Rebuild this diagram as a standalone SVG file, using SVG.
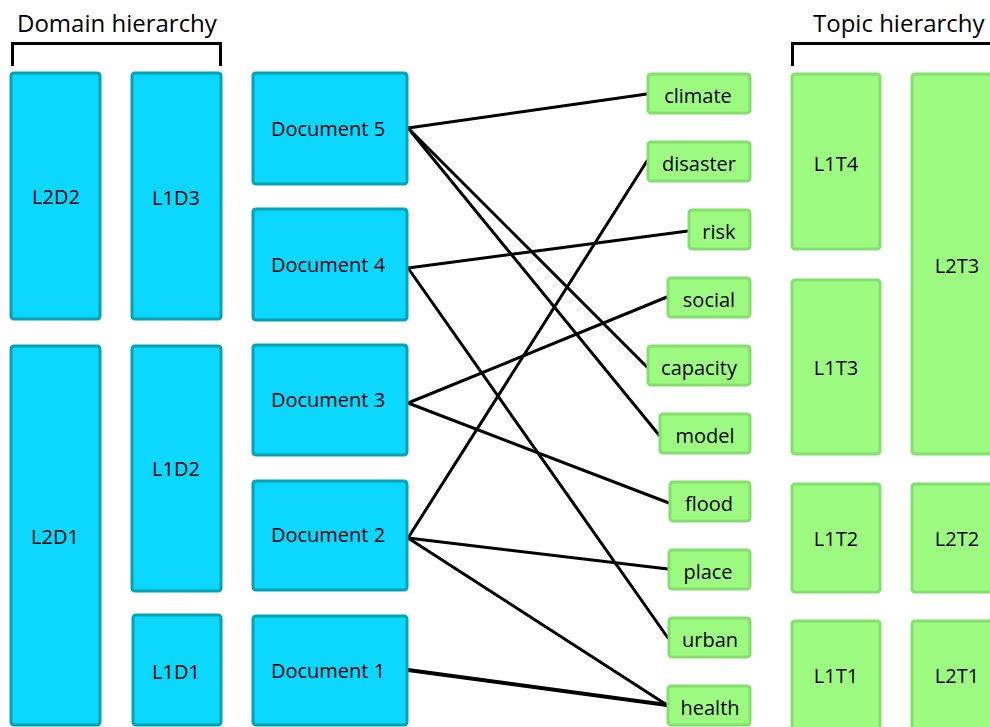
<svg xmlns="http://www.w3.org/2000/svg" width="990" height="727" viewBox="0 0 990 727">
  <style>
    text { font-family: "Open Sans", "Noto Sans", sans-serif; fill: #000; }
    .title { font-size: 24px; }
    .lbl { font-size: 20px; text-anchor: middle; dominant-baseline: central; }
    .dom rect { fill: #0bd7ff; stroke: #05a2b2; stroke-width: 3; }
    .top rect { fill: #9cfb80; stroke: #84e06c; stroke-width: 3; }
    .bracket { fill: none; stroke: #000; stroke-width: 3; }
    #connectors line { stroke: #000; stroke-width: 3; stroke-linecap: round; }
  </style>

  <!-- headings and brackets -->
  <text class="title" x="17" y="32">Domain hierarchy</text>
  <path class="bracket" d="M12.5 66 V43.5 H220.5 V66"/>
  <text class="title" x="813" y="32">Topic hierarchy</text>
  <path class="bracket" d="M792.5 66 V43.5 H995"/>

  <!-- connectors -->
  <g id="connectors">
    <line x1="408" y1="128" x2="647" y2="94"/>
    <line x1="408" y1="128" x2="647" y2="367"/>
    <line x1="408" y1="128" x2="659" y2="435"/>
    <line x1="408" y1="268" x2="688" y2="231"/>
    <line x1="408" y1="268" x2="668" y2="638"/>
    <line x1="408" y1="403" x2="667" y2="297"/>
    <line x1="408" y1="403" x2="669" y2="503"/>
    <line x1="408" y1="538" x2="647" y2="161"/>
    <line x1="408" y1="538" x2="668" y2="569"/>
    <line x1="408" y1="538" x2="667" y2="705"/>
    <line x1="408" y1="670" x2="667" y2="705" style="stroke-width:4"/>
  </g>

  <!-- domain hierarchy -->
  <g id="L2D2" class="dom"><rect x="11" y="73" width="89" height="246" rx="3"/><text class="lbl" x="56" y="196">L2D2</text></g>
  <g id="L2D1" class="dom"><rect x="11" y="346" width="89" height="379" rx="3"/><text class="lbl" x="55" y="536">L2D1</text></g>
  <g id="L1D3" class="dom"><rect x="132" y="73" width="89" height="246" rx="3"/><text class="lbl" x="176" y="197">L1D3</text></g>
  <g id="L1D2" class="dom"><rect x="132" y="346" width="89" height="245" rx="3"/><text class="lbl" x="176" y="468">L1D2</text></g>
  <g id="L1D1" class="dom"><rect x="133" y="615" width="88" height="110" rx="3"/><text class="lbl" x="176" y="671">L1D1</text></g>

  <!-- documents -->
  <g id="doc5" class="dom"><rect x="253" y="73" width="154" height="111" rx="3"/><text class="lbl" x="328" y="128">Document 5</text></g>
  <g id="doc4" class="dom"><rect x="253" y="209" width="154" height="111" rx="3"/><text class="lbl" x="328" y="264">Document 4</text></g>
  <g id="doc3" class="dom"><rect x="253" y="345" width="154" height="110" rx="3"/><text class="lbl" x="328" y="399">Document 3</text></g>
  <g id="doc2" class="dom"><rect x="253" y="481" width="154" height="109" rx="3"/><text class="lbl" x="328" y="534">Document 2</text></g>
  <g id="doc1" class="dom"><rect x="253" y="616" width="154" height="109" rx="3"/><text class="lbl" x="328" y="670">Document 1</text></g>

  <!-- words -->
  <g id="w-climate" class="top"><rect x="648" y="74" width="102" height="39" rx="3"/><text class="lbl" x="698" y="95">climate</text></g>
  <g id="w-disaster" class="top"><rect x="648" y="142" width="102" height="39" rx="3"/><text class="lbl" x="699" y="163">disaster</text></g>
  <g id="w-risk" class="top"><rect x="689" y="210" width="61" height="39" rx="3"/><text class="lbl" x="719" y="231">risk</text></g>
  <g id="w-social" class="top"><rect x="668" y="278" width="82" height="39" rx="3"/><text class="lbl" x="709" y="299">social</text></g>
  <g id="w-capacity" class="top"><rect x="648" y="346" width="102" height="39" rx="3"/><text class="lbl" x="699" y="367">capacity</text></g>
  <g id="w-model" class="top"><rect x="660" y="414" width="90" height="39" rx="3"/><text class="lbl" x="705" y="435">model</text></g>
  <g id="w-flood" class="top"><rect x="670" y="482" width="80" height="39" rx="3"/><text class="lbl" x="709" y="503">flood</text></g>
  <g id="w-place" class="top"><rect x="669" y="550" width="81" height="39" rx="3"/><text class="lbl" x="708" y="571">place</text></g>
  <g id="w-urban" class="top"><rect x="669" y="618" width="81" height="39" rx="3"/><text class="lbl" x="710" y="639">urban</text></g>
  <g id="w-health" class="top"><rect x="668" y="686" width="82" height="39" rx="3"/><text class="lbl" x="710" y="707">health</text></g>

  <!-- topic hierarchy -->
  <g id="L1T4" class="top"><rect x="792" y="74" width="88" height="175" rx="3"/><text class="lbl" x="836" y="163">L1T4</text></g>
  <g id="L1T3" class="top"><rect x="792" y="280" width="88" height="174" rx="3"/><text class="lbl" x="836" y="367">L1T3</text></g>
  <g id="L1T2" class="top"><rect x="792" y="484" width="88" height="108" rx="3"/><text class="lbl" x="836" y="538">L1T2</text></g>
  <g id="L1T1" class="top"><rect x="792" y="621" width="88" height="110" rx="3"/><text class="lbl" x="836" y="675">L1T1</text></g>
  <g id="L2T3" class="top"><rect x="912" y="74" width="90" height="380" rx="3"/><text class="lbl" x="957" y="265">L2T3</text></g>
  <g id="L2T2" class="top"><rect x="912" y="484" width="90" height="108" rx="3"/><text class="lbl" x="957" y="538">L2T2</text></g>
  <g id="L2T1" class="top"><rect x="912" y="621" width="90" height="110" rx="3"/><text class="lbl" x="957" y="675">L2T1</text></g>
</svg>
